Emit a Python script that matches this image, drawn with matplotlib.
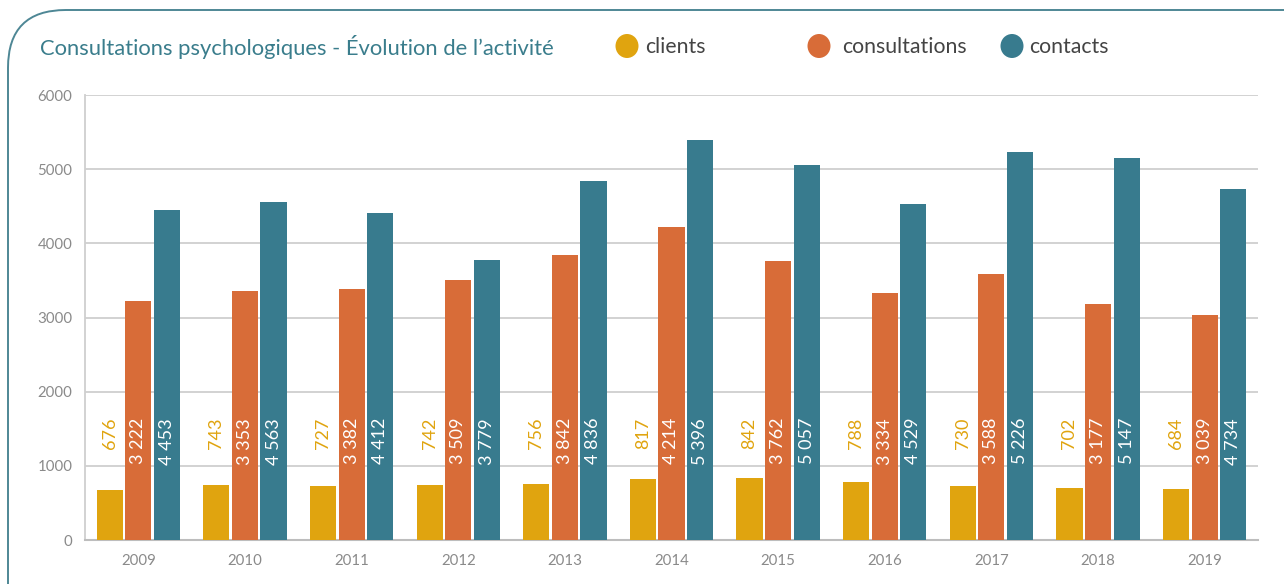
import matplotlib
matplotlib.use("Agg")
import matplotlib.pyplot as plt
from matplotlib.patches import FancyBboxPatch, Ellipse
import numpy as np

years = ["2009", "2010", "2011", "2012", "2013", "2014", "2015", "2016", "2017", "2018", "2019"]
clients = [676, 743, 727, 742, 756, 817, 842, 788, 730, 702, 684]
consultations = [3222, 3353, 3382, 3509, 3842, 4214, 3762, 3334, 3588, 3177, 3039]
contacts = [4453, 4563, 4412, 3779, 4836, 5396, 5057, 4529, 5226, 5147, 4734]
series_names = ["clients", "consultations", "contacts"]
colors = ["#E0A40F", "#D86C38", "#387B8E"]
yticks = [0, 1000, 2000, 3000, 4000, 5000, 6000]

plt.rcParams['font.family'] = ['Lato', 'DejaVu Sans']

W, H = 1284, 584
fig = plt.figure(figsize=(W / 100, H / 100), dpi=100)

# rounded frame
frame = FancyBboxPatch((8 / W, -0.2), 1.2, (H - 10) / H + 0.2,
                       boxstyle="round,pad=0,rounding_size=0.045",
                       transform=fig.transFigure, fill=False,
                       edgecolor="#4E8795", linewidth=1.4, mutation_aspect=W / H)
fig.patches.append(frame)

ax = fig.add_axes([85 / W, (H - 540) / H, (1258 - 85) / W, (540 - 95) / H])
x = np.arange(len(years))
bw = 0.245
step = 0.268
data = [clients, consultations, contacts]
for i, (vals, c) in enumerate(zip(data, colors)):
    pos = x + (i - 1) * step
    ax.bar(pos, vals, width=bw, color=c, zorder=3)
    for p, v in zip(pos, vals):
        s = f"{v:,}".replace(",", " ")
        ax.text(p, 1645, s, rotation=90, ha="center", va="top",
                color=(colors[0] if i == 0 else "white"), fontsize=13, zorder=4)

ax.set_xlim(-0.5, len(years) - 0.5)
ax.set_ylim(0, 6000)
ax.set_yticks(yticks)
ax.set_yticklabels([str(t) for t in yticks])
ax.set_xticks(x)
ax.set_xticklabels(years)
ax.yaxis.grid(True, color="#CFCFCF", linewidth=1.3, zorder=0)
ax.tick_params(axis="both", length=0, labelsize=10.8, colors="#8A8A8A", pad=9)
ax.tick_params(axis="x", pad=10)
for sp in ["top", "right"]:
    ax.spines[sp].set_visible(False)
ax.spines["left"].set_color("#CFCFCF")
ax.spines["left"].set_linewidth(1.3)
ax.spines["bottom"].set_color("#BDBDBD")
ax.spines["bottom"].set_linewidth(1.5)

# title
fig.text(40 / W, 1 - 47 / H, "Consultations psychologiques - Évolution de l\u2019activité",
         color="#3A7D8C", fontsize=15.8, ha="left", va="center")

# legend
leg_cx = [627, 819, 1012]
leg_tx = [645, 842, 1029]
for cx, tx, name, c in zip(leg_cx, leg_tx, series_names, colors):
    fig.patches.append(Ellipse((cx / W, 1 - 46 / H), 23 / W, 24 / H, transform=fig.transFigure,
                               facecolor=c, edgecolor="none"))
    fig.text(tx / W, 1 - 47 / H, name, color="#444444", fontsize=15.3, ha="left", va="center")

fig.savefig("out.png", dpi=100)
